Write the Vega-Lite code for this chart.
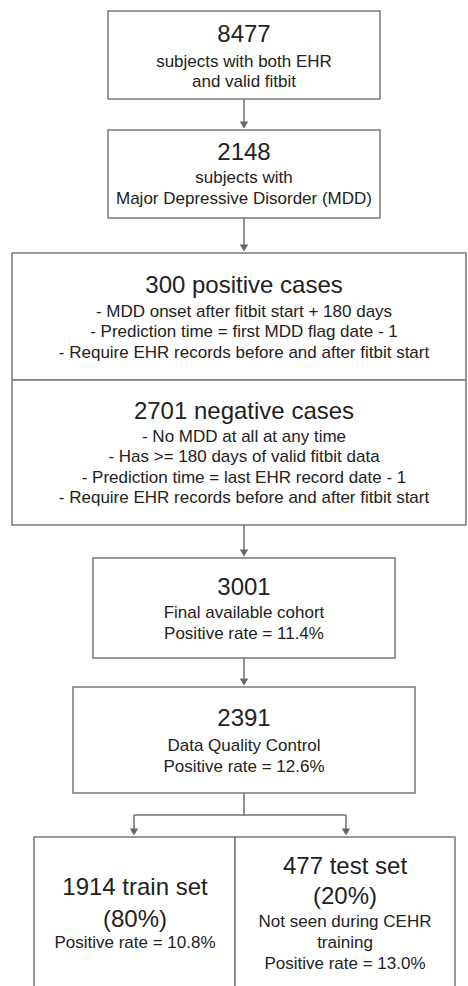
{
  "$schema": "https://vega.github.io/schema/vega-lite/v6.json",
  "width": 468,
  "height": 986,
  "autosize": {"type": "fit", "contains": "padding"},
  "padding": 0,
  "background": "white",
  "config": {"view": {"stroke": null}, "font": "Liberation Sans"},
  "datasets": {
    "boxes": [
      {"id": "all", "x1": 108, "x2": 380, "y1": 11, "y2": 99},
      {"id": "mdd", "x1": 108, "x2": 380, "y1": 130, "y2": 218},
      {"id": "pos", "x1": 12, "x2": 466, "y1": 253, "y2": 380},
      {"id": "neg", "x1": 12, "x2": 466, "y1": 380, "y2": 525},
      {"id": "cohort", "x1": 93, "x2": 395, "y1": 558, "y2": 658},
      {"id": "dqc", "x1": 73, "x2": 415, "y1": 687, "y2": 793},
      {"id": "train", "x1": 34, "x2": 235, "y1": 837, "y2": 1000},
      {"id": "test", "x1": 235, "x2": 455, "y1": 837, "y2": 1000}
    ],
    "links": [
      {"x1": 244, "x2": 244, "y1": 99, "y2": 124},
      {"x1": 244, "x2": 244, "y1": 218, "y2": 247},
      {"x1": 244, "x2": 244, "y1": 525, "y2": 552},
      {"x1": 244, "x2": 244, "y1": 658, "y2": 681},
      {"x1": 244, "x2": 244, "y1": 793, "y2": 815},
      {"x1": 134, "x2": 346, "y1": 815, "y2": 815},
      {"x1": 134, "x2": 134, "y1": 815, "y2": 831},
      {"x1": 346, "x2": 346, "y1": 815, "y2": 831}
    ],
    "heads": [
      {"x": 244, "y": 125},
      {"x": 244, "y": 248},
      {"x": 244, "y": 553},
      {"x": 244, "y": 682},
      {"x": 134, "y": 832},
      {"x": 346, "y": 832}
    ],
    "labels": [
      {"x": 244, "y": 35, "role": "head", "t": "8477"},
      {"x": 244, "y": 62, "role": "body", "t": "subjects with both EHR"},
      {"x": 244, "y": 82, "role": "body", "t": "and valid fitbit"},
      {"x": 244, "y": 153, "role": "head", "t": "2148"},
      {"x": 244, "y": 178, "role": "body", "t": "subjects with"},
      {"x": 244, "y": 199, "role": "body", "t": "Major Depressive Disorder (MDD)"},
      {"x": 244, "y": 286, "role": "head", "t": "300 positive cases"},
      {"x": 244, "y": 312, "role": "body", "t": "- MDD onset after fitbit start + 180 days"},
      {"x": 244, "y": 332, "role": "body", "t": "- Prediction time = first MDD flag date - 1"},
      {"x": 244, "y": 353, "role": "body", "t": "- Require EHR records before and after fitbit start"},
      {"x": 244, "y": 412, "role": "head", "t": "2701 negative cases"},
      {"x": 244, "y": 437, "role": "body", "t": "- No MDD at all at any time"},
      {"x": 244, "y": 457, "role": "body", "t": "- Has >= 180 days of valid fitbit data"},
      {"x": 244, "y": 478, "role": "body", "t": "- Prediction time = last EHR record date - 1"},
      {"x": 244, "y": 498, "role": "body", "t": "- Require EHR records before and after fitbit start"},
      {"x": 244, "y": 588, "role": "head", "t": "3001"},
      {"x": 244, "y": 613, "role": "body", "t": "Final available cohort"},
      {"x": 244, "y": 634, "role": "body", "t": "Positive rate = 11.4%"},
      {"x": 244, "y": 719, "role": "head", "t": "2391"},
      {"x": 244, "y": 746, "role": "body", "t": "Data Quality Control"},
      {"x": 244, "y": 767, "role": "body", "t": "Positive rate = 12.6%"},
      {"x": 135, "y": 888, "role": "head", "t": "1914 train set"},
      {"x": 135, "y": 920, "role": "head", "t": "(80%)"},
      {"x": 135, "y": 943, "role": "body", "t": "Positive rate = 10.8%"},
      {"x": 345, "y": 867, "role": "head", "t": "477 test set"},
      {"x": 345, "y": 897, "role": "head", "t": "(20%)"},
      {"x": 345, "y": 922, "role": "body", "t": "Not seen during CEHR"},
      {"x": 345, "y": 943, "role": "body", "t": "training"},
      {"x": 345, "y": 964, "role": "body", "t": "Positive rate = 13.0%"}
    ]
  },
  "layer": [
    {
      "data": {"name": "boxes"},
      "mark": {"type": "rect", "fill": "white", "stroke": "#7a7a7a", "strokeWidth": 1.5, "clip": true},
      "encoding": {
        "x": {"field": "x1", "type": "quantitative", "scale": {"domain": [0, 468], "nice": false, "zero": false}, "axis": null},
        "x2": {"field": "x2"},
        "y": {"field": "y1", "type": "quantitative", "scale": {"domain": [0, 986], "nice": false, "zero": false, "reverse": true}, "axis": null},
        "y2": {"field": "y2"}
      }
    },
    {
      "data": {"name": "links"},
      "mark": {"type": "rule", "stroke": "#6e6e6e", "strokeWidth": 1.5},
      "encoding": {
        "x": {"field": "x1", "type": "quantitative"},
        "x2": {"field": "x2"},
        "y": {"field": "y1", "type": "quantitative"},
        "y2": {"field": "y2"}
      }
    },
    {
      "data": {"name": "heads"},
      "mark": {"type": "point", "shape": "triangle-down", "filled": true, "color": "#666666", "size": 70, "opacity": 1},
      "encoding": {
        "x": {"field": "x", "type": "quantitative"},
        "y": {"field": "y", "type": "quantitative"}
      }
    },
    {
      "data": {"name": "labels"},
      "mark": {"type": "text", "align": "center", "baseline": "middle", "color": "#222222", "font": "Liberation Sans"},
      "encoding": {
        "x": {"field": "x", "type": "quantitative"},
        "y": {"field": "y", "type": "quantitative"},
        "text": {"field": "t"},
        "size": {"field": "role", "type": "nominal", "scale": {"domain": ["head", "body"], "range": [24, 17]}, "legend": null}
      }
    }
  ]
}
